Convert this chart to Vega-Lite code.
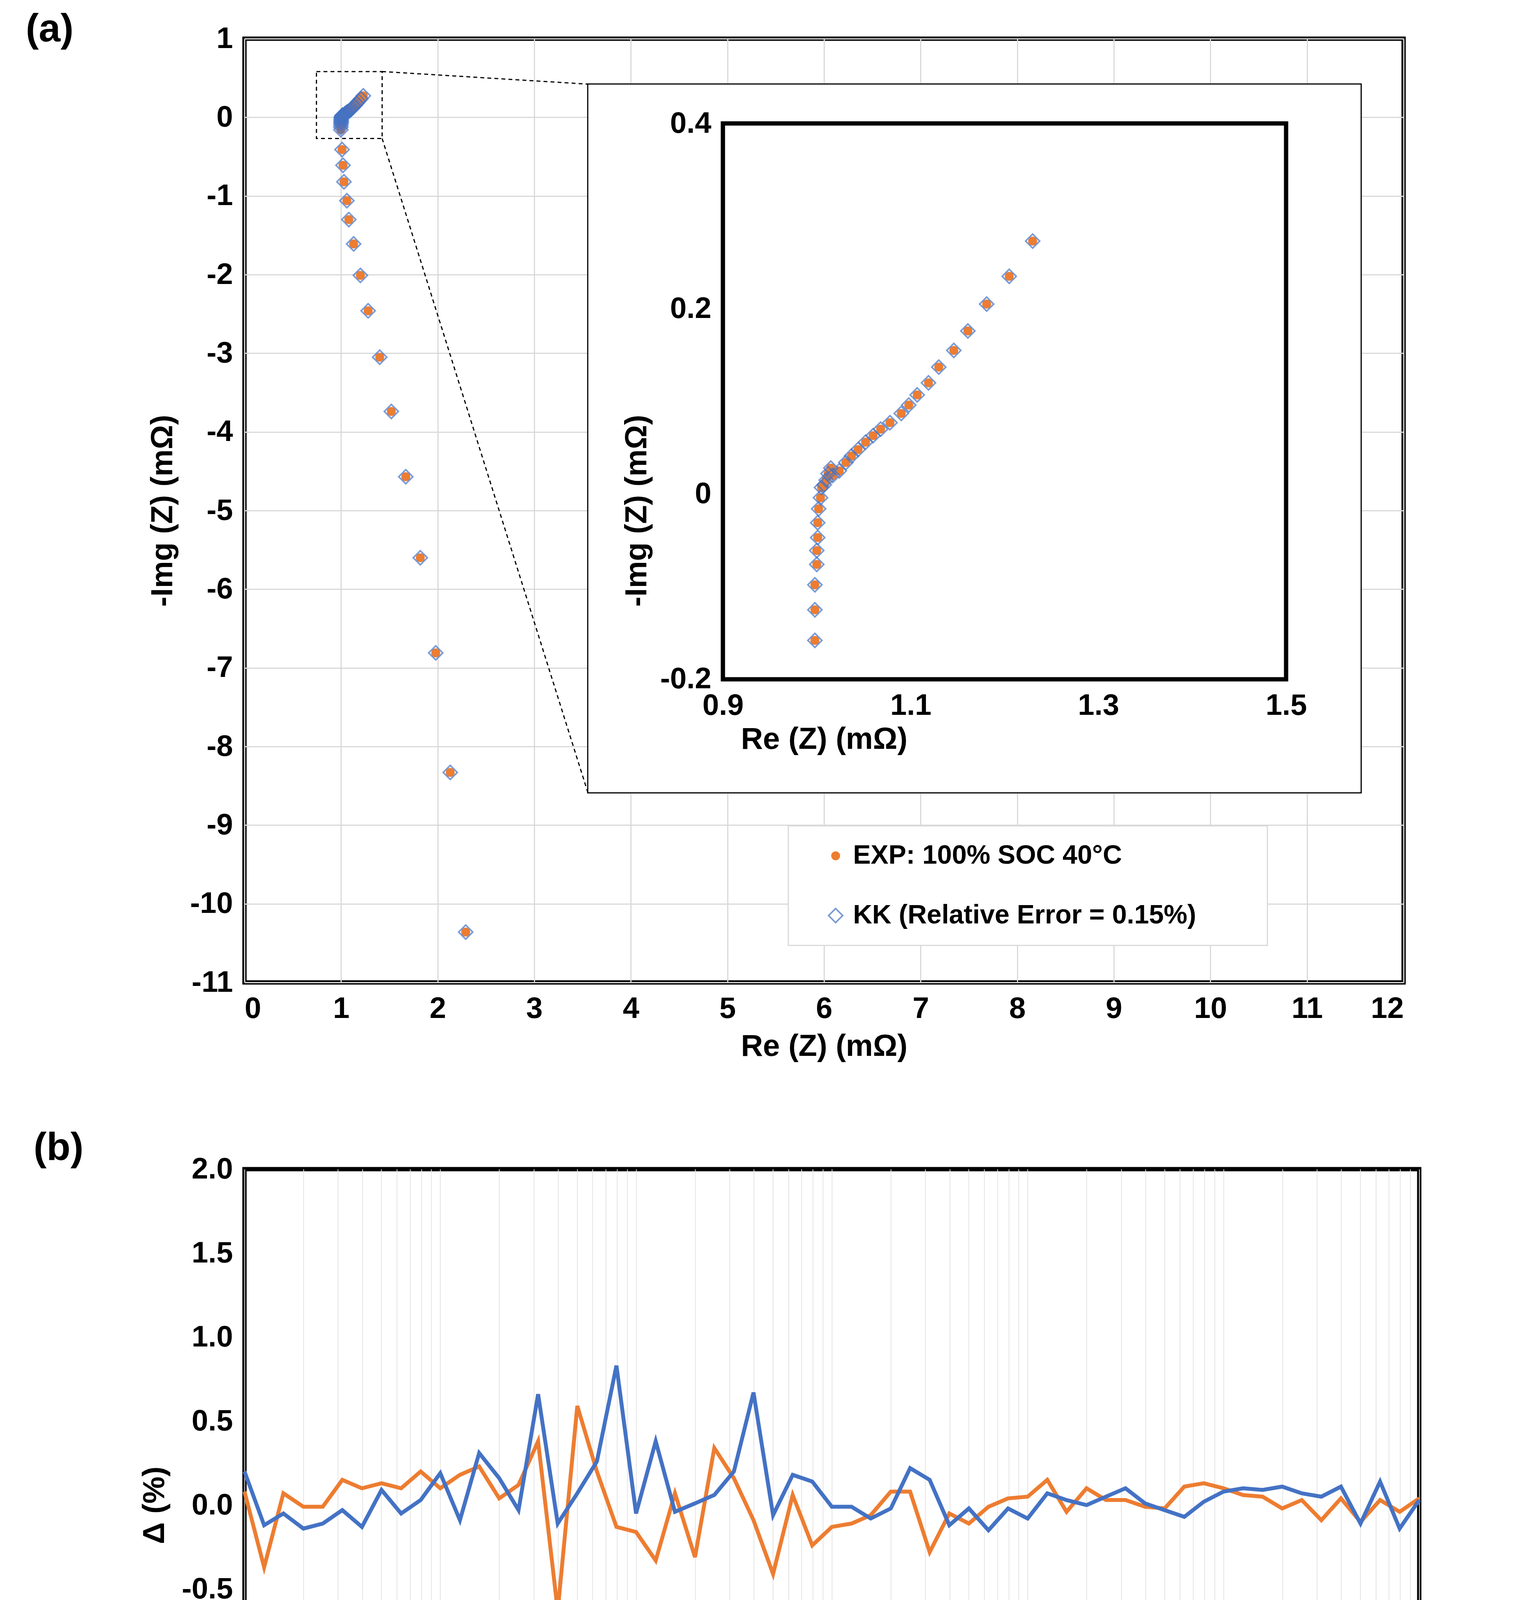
{
  "$schema": "https://vega.github.io/schema/vega-lite/v6.json",
  "background": "white",
  "padding": {"left": 60, "top": 20, "right": 120, "bottom": 40},
  "config": {
    "font": "Liberation Sans",
    "view": {"stroke": "black", "strokeWidth": 11},
    "axis": {"labelFont": "Liberation Sans", "labelFontWeight": "bold", "labelFontSize": 76, "labelColor": "black",
             "titleFont": "Liberation Sans", "titleFontWeight": "bold", "titleFontSize": 78, "titleColor": "black",
             "ticks": false, "domain": false, "gridColor": "#d9d9d9", "gridWidth": 3, "labelPadding": 30},
    "title": {"font": "Liberation Sans", "fontWeight": "bold", "fontSize": 100, "anchor": "start", "frame": "group"}
  },
  "datasets": {
    "imp": [
      {"re": 1.230, "im": 0.273}, {"re": 1.205, "im": 0.235}, {"re": 1.181, "im": 0.205}, {"re": 1.161, "im": 0.176},
      {"re": 1.146, "im": 0.155}, {"re": 1.130, "im": 0.137}, {"re": 1.119, "im": 0.120}, {"re": 1.107, "im": 0.107},
      {"re": 1.098, "im": 0.096}, {"re": 1.090, "im": 0.087}, {"re": 1.078, "im": 0.077}, {"re": 1.068, "im": 0.070},
      {"re": 1.060, "im": 0.063}, {"re": 1.052, "im": 0.056}, {"re": 1.044, "im": 0.048}, {"re": 1.037, "im": 0.041},
      {"re": 1.031, "im": 0.034}, {"re": 1.024, "im": 0.025}, {"re": 1.017, "im": 0.020}, {"re": 1.015, "im": 0.028},
      {"re": 1.012, "im": 0.022}, {"re": 1.010, "im": 0.015}, {"re": 1.008, "im": 0.010}, {"re": 1.005, "im": 0.007},
      {"re": 1.004, "im": -0.004}, {"re": 1.002, "im": -0.016}, {"re": 1.001, "im": -0.031}, {"re": 1.001, "im": -0.047},
      {"re": 1.000, "im": -0.061}, {"re": 1.000, "im": -0.076}, {"re": 0.998, "im": -0.098}, {"re": 0.998, "im": -0.125},
      {"re": 0.998, "im": -0.158}, {"re": 1.01, "im": -0.41}, {"re": 1.02, "im": -0.61}, {"re": 1.03, "im": -0.82},
      {"re": 1.06, "im": -1.06}, {"re": 1.08, "im": -1.30}, {"re": 1.13, "im": -1.61}, {"re": 1.20, "im": -2.01},
      {"re": 1.28, "im": -2.46}, {"re": 1.40, "im": -3.05}, {"re": 1.52, "im": -3.74}, {"re": 1.67, "im": -4.57},
      {"re": 1.82, "im": -5.60}, {"re": 1.98, "im": -6.81}, {"re": 2.13, "im": -8.33}, {"re": 2.29, "im": -10.36}
    ],
    "delta": [
      {"f": 0.01, "re": 0.08, "img": 0.20}, {"f": 0.0126, "re": -0.37, "img": -0.12}, {"f": 0.0158, "re": 0.07, "img": -0.05},
      {"f": 0.02, "re": -0.01, "img": -0.14}, {"f": 0.0251, "re": -0.01, "img": -0.11}, {"f": 0.0316, "re": 0.15, "img": -0.03},
      {"f": 0.0398, "re": 0.10, "img": -0.13}, {"f": 0.0501, "re": 0.13, "img": 0.09}, {"f": 0.0631, "re": 0.10, "img": -0.05},
      {"f": 0.0794, "re": 0.20, "img": 0.03}, {"f": 0.1, "re": 0.10, "img": 0.19}, {"f": 0.126, "re": 0.18, "img": -0.09},
      {"f": 0.158, "re": 0.23, "img": 0.31}, {"f": 0.2, "re": 0.04, "img": 0.16}, {"f": 0.251, "re": 0.12, "img": -0.03},
      {"f": 0.316, "re": 0.38, "img": 0.66}, {"f": 0.398, "re": -0.63, "img": -0.11}, {"f": 0.501, "re": 0.59, "img": 0.07},
      {"f": 0.631, "re": 0.20, "img": 0.26}, {"f": 0.794, "re": -0.13, "img": 0.83}, {"f": 1, "re": -0.16, "img": -0.05},
      {"f": 1.26, "re": -0.33, "img": 0.38}, {"f": 1.58, "re": 0.07, "img": -0.04}, {"f": 2, "re": -0.31, "img": 0.01},
      {"f": 2.51, "re": 0.34, "img": 0.06}, {"f": 3.16, "re": 0.16, "img": 0.20}, {"f": 3.98, "re": -0.09, "img": 0.67},
      {"f": 5.01, "re": -0.41, "img": -0.06}, {"f": 6.31, "re": 0.06, "img": 0.18}, {"f": 7.94, "re": -0.24, "img": 0.14},
      {"f": 10, "re": -0.13, "img": -0.01}, {"f": 12.6, "re": -0.11, "img": -0.01}, {"f": 15.8, "re": -0.06, "img": -0.08},
      {"f": 20, "re": 0.08, "img": -0.02}, {"f": 25.1, "re": 0.08, "img": 0.22}, {"f": 31.6, "re": -0.28, "img": 0.15},
      {"f": 39.8, "re": -0.05, "img": -0.12}, {"f": 50.1, "re": -0.11, "img": -0.02}, {"f": 63.1, "re": -0.01, "img": -0.15},
      {"f": 79.4, "re": 0.04, "img": -0.02}, {"f": 100, "re": 0.05, "img": -0.08}, {"f": 126, "re": 0.15, "img": 0.07},
      {"f": 158, "re": -0.04, "img": 0.03}, {"f": 200, "re": 0.10, "img": 0.00}, {"f": 251, "re": 0.03, "img": 0.05},
      {"f": 316, "re": 0.03, "img": 0.10}, {"f": 398, "re": -0.01, "img": 0.01}, {"f": 501, "re": -0.02, "img": -0.03},
      {"f": 631, "re": 0.11, "img": -0.07}, {"f": 794, "re": 0.13, "img": 0.02}, {"f": 1000, "re": 0.10, "img": 0.08},
      {"f": 1259, "re": 0.06, "img": 0.10}, {"f": 1585, "re": 0.05, "img": 0.09}, {"f": 1995, "re": -0.02, "img": 0.11},
      {"f": 2512, "re": 0.03, "img": 0.07}, {"f": 3162, "re": -0.09, "img": 0.05}, {"f": 3981, "re": 0.04, "img": 0.11},
      {"f": 5012, "re": -0.10, "img": -0.11}, {"f": 6310, "re": 0.03, "img": 0.14}, {"f": 7943, "re": -0.04, "img": -0.14},
      {"f": 10000, "re": 0.04, "img": 0.03}
    ]
  },
  "vconcat": [
    {
      "title": {"text": "(a)", "dx": -560, "dy": 70},
      "width": 2968,
      "height": 2416,
      "layer": [
        {
          "layer": [
            {
              "data": {"name": "imp"},
              "mark": {"type": "point", "filled": true, "shape": "circle", "size": 520, "color": "#ED7D31", "opacity": 1},
              "encoding": {
                "x": {"field": "re", "type": "quantitative", "title": "Re (Z) (mΩ)",
                      "scale": {"domain": [0, 12], "nice": false},
                      "axis": {"values": [0,1,2,3,4,5,6,7,8,9,10,11,12], "grid": true, "titlePadding": 20, "labelExpr": "'' + datum.value"}},
                "y": {"field": "im", "type": "quantitative", "title": "-Img (Z) (mΩ)",
                      "scale": {"domain": [-11, 1], "nice": false},
                      "axis": {"values": [-11,-10,-9,-8,-7,-6,-5,-4,-3,-2,-1,0,1], "grid": true,
                               "labelExpr": "'' + datum.value", "titlePadding": 30}}
              }
            },
            {
              "data": {"name": "imp"},
              "mark": {"type": "point", "filled": false, "shape": "diamond", "size": 1300, "color": "#4472C4", "strokeWidth": 4},
              "encoding": {"x": {"field": "re", "type": "quantitative"}, "y": {"field": "im", "type": "quantitative"}}
            },
            {
              "data": {"values": [{"x": 0.745, "x2": 1.425, "y": -0.269, "y2": 0.582}]},
              "mark": {"type": "rect", "fill": null, "stroke": "black", "strokeWidth": 3, "strokeDash": [10, 8]},
              "encoding": {"x": {"field": "x", "type": "quantitative"}, "x2": {"field": "x2"},
                           "y": {"field": "y", "type": "quantitative"}, "y2": {"field": "y2"}}
            },
            {
              "data": {"values": [{"x": 1.425, "y": 0.582, "x2": 3.556, "y2": 0.422}, {"x": 1.425, "y": -0.269, "x2": 3.556, "y2": -8.59}]},
              "mark": {"type": "rule", "stroke": "black", "strokeWidth": 3, "strokeDash": [10, 8]},
              "encoding": {"x": {"field": "x", "type": "quantitative"}, "x2": {"field": "x2"},
                           "y": {"field": "y", "type": "quantitative"}, "y2": {"field": "y2"}}
            },
            {
              "data": {"values": [{"x": 5.63, "x2": 10.59, "y": -10.53, "y2": -9.01}]},
              "mark": {"type": "rect", "fill": "white", "stroke": "#d9d9d9", "strokeWidth": 3},
              "encoding": {"x": {"field": "x", "type": "quantitative"}, "x2": {"field": "x2"},
                           "y": {"field": "y", "type": "quantitative"}, "y2": {"field": "y2"}}
            },
            {
              "data": {"values": [{"x": 6.12, "y": -9.39}]},
              "mark": {"type": "point", "filled": true, "shape": "circle", "size": 520, "color": "#ED7D31", "opacity": 1},
              "encoding": {"x": {"field": "x", "type": "quantitative"}, "y": {"field": "y", "type": "quantitative"}}
            },
            {
              "data": {"values": [{"x": 6.12, "y": -10.15}]},
              "mark": {"type": "point", "filled": false, "shape": "diamond", "size": 1300, "color": "#4472C4", "strokeWidth": 4},
              "encoding": {"x": {"field": "x", "type": "quantitative"}, "y": {"field": "y", "type": "quantitative"}}
            },
            {
              "data": {"values": [{"x": 6.3, "y": -9.39, "t": "EXP: 100% SOC 40°C"}, {"x": 6.3, "y": -10.15, "t": "KK (Relative Error = 0.15%)"}]},
              "mark": {"type": "text", "align": "left", "baseline": "middle", "fontSize": 68, "fontWeight": "bold", "font": "Liberation Sans"},
              "encoding": {"x": {"field": "x", "type": "quantitative"}, "y": {"field": "y", "type": "quantitative"}, "text": {"field": "t"}}
            }
          ]
        },
        {
          "layer": [
            {
              "data": {"values": [{"x": 0.756, "x2": 1.580, "y": -0.3226, "y2": 0.4426}]},
              "mark": {"type": "rect", "fill": "white", "stroke": "black", "strokeWidth": 3},
              "encoding": {
                "x": {"field": "x", "type": "quantitative", "title": "Re (Z) (mΩ)",
                      "scale": {"domain": [0.3903, 1.6252], "nice": false, "zero": false},
                      "axis": {"orient": "bottom", "offset": -776, "values": [0.9, 1.1, 1.3, 1.5], "grid": false, "zindex": 2,
                               "titlePadding": 10, "labelExpr": "'' + datum.value"}},
                "x2": {"field": "x2"},
                "y": {"field": "y", "type": "quantitative", "title": "-Img (Z) (mΩ)",
                      "scale": {"domain": [-0.5272, 0.4915], "nice": false, "zero": false},
                      "axis": {"orient": "left", "offset": -1225, "values": [-0.2, 0, 0.2, 0.4], "grid": false, "zindex": 2,
                               "labelExpr": "'' + datum.value", "titlePadding": 20}},
                "y2": {"field": "y2"}
              }
            },
            {
              "data": {"values": [{"x": 0.9, "x2": 1.5, "y": -0.2, "y2": 0.4}]},
              "mark": {"type": "rect", "fill": null, "stroke": "black", "strokeWidth": 11},
              "encoding": {"x": {"field": "x", "type": "quantitative"}, "x2": {"field": "x2"},
                           "y": {"field": "y", "type": "quantitative"}, "y2": {"field": "y2"}}
            },
            {
              "data": {"name": "imp"},
              "transform": [{"filter": "datum.im >= -0.2 && datum.re <= 1.5"}],
              "mark": {"type": "point", "filled": true, "shape": "circle", "size": 520, "color": "#ED7D31", "opacity": 1},
              "encoding": {"x": {"field": "re", "type": "quantitative"}, "y": {"field": "im", "type": "quantitative"}}
            },
            {
              "data": {"name": "imp"},
              "transform": [{"filter": "datum.im >= -0.2 && datum.re <= 1.5"}],
              "mark": {"type": "point", "filled": false, "shape": "diamond", "size": 1300, "color": "#4472C4", "strokeWidth": 4},
              "encoding": {"x": {"field": "re", "type": "quantitative"}, "y": {"field": "im", "type": "quantitative"}}
            }
          ]
        }
      ],
      "resolve": {"scale": {"x": "independent", "y": "independent"}}
    },
    {
      "title": {"text": "(b)", "dx": -540, "dy": 40},
      "width": 3008,
      "height": 1720,
      "data": {"name": "delta"},
      "transform": [{"fold": ["re", "img"], "as": ["key", "val"]}],
      "mark": {"type": "line", "strokeWidth": 10},
      "encoding": {
        "x": {"field": "f", "type": "quantitative", "title": "Frequency (Hz)",
              "scale": {"type": "log", "domain": [0.01, 10000], "nice": false},
              "axis": {"grid": true, "titlePadding": 10, "gridColor": "#e4e4e4", "gridWidth": 2,
                       "values": [0.01,0.02,0.03,0.04,0.05,0.06,0.07,0.08,0.09,0.1,0.2,0.3,0.4,0.5,0.6,0.7,0.8,0.9,1,2,3,4,5,6,7,8,9,10,20,30,40,50,60,70,80,90,100,200,300,400,500,600,700,800,900,1000,2000,3000,4000,5000,6000,7000,8000,9000,10000],
                       "labelExpr": "abs(log(datum.value)/LN10 - round(log(datum.value)/LN10)) < 1e-6 ? (datum.value == 10000 ? '10,000' : format(datum.value, '~g')) : ''"}},
        "y": {"field": "val", "type": "quantitative", "title": "Δ (%)",
              "scale": {"domain": [-2, 2], "nice": false},
              "axis": {"values": [-2,-1.5,-1,-0.5,0,0.5,1,1.5,2], "grid": false, "titlePadding": 30,
                       "labelExpr": "replace(format(datum.value, '.1f'), '−', '-')"}},
        "color": {"field": "key", "type": "nominal",
                  "scale": {"domain": ["re", "img"], "range": ["#ED7D31", "#4472C4"]},
                  "legend": {"orient": "none", "legendX": 534, "legendY": 4211, "direction": "horizontal", "title": null,
                             "labelExpr": "datum.value == 're' ? 'Δ Re (Z)' : 'Δ Img (Z)'", "labelLimit": 0,
                             "labelFontSize": 72, "labelFontWeight": "bold", "labelFont": "Liberation Sans", "labelColor": "black",
                             "symbolType": "stroke", "symbolStrokeWidth": 10, "symbolSize": 5000,
                             "columnPadding": 120, "padding": 140, "fillColor": "white", "strokeColor": "#d9d9d9"}}
      }
    }
  ],
  "spacing": 160
}
